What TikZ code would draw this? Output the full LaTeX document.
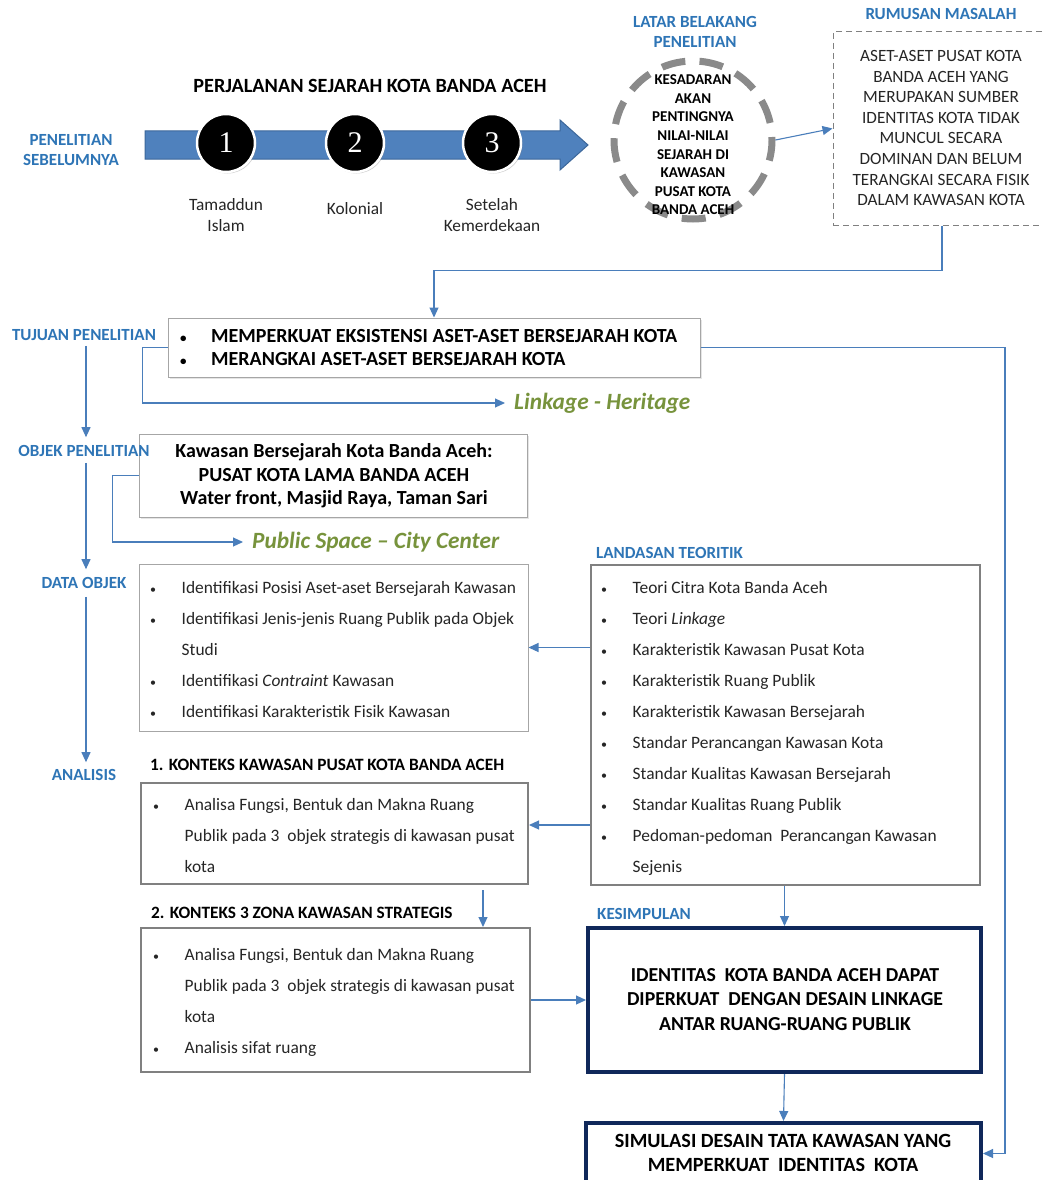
\documentclass[tikz,border=0pt]{standalone}
\usepackage{fontspec}
\setmainfont{Carlito}
\newfontfamily\numfont{Liberation Serif}
\usetikzlibrary{arrows.meta,calc,shadows}
\definecolor{lblblue}{HTML}{2E75B6}
\definecolor{linkblue}{HTML}{4A7EBB}
\definecolor{arrowfill}{HTML}{4F81BD}
\definecolor{arrowedge}{HTML}{3C679A}
\definecolor{boxgray}{HTML}{808080}
\definecolor{lightgr}{HTML}{A6A6A6}
\definecolor{dashgray}{HTML}{8A8A8A}
\definecolor{navy}{HTML}{10285A}
\definecolor{olive}{HTML}{77933C}
\definecolor{txt}{HTML}{262626}
\tikzset{
  lbl/.style={text=lblblue, font=\bfseries\fontsize{17}{20}\selectfont, align=center, inner sep=0pt},
  conn/.style={draw=linkblue, line width=1.1pt, -{Triangle[length=10pt,width=9pt]}},
  thinbox/.style={draw=lightgr, line width=1pt, rectangle, inner sep=0pt},
  thickbox/.style={draw=boxgray, line width=2pt, rectangle, inner sep=0pt},
  navybox/.style={draw=navy, line width=4pt, rectangle, inner sep=0pt},
  listtext/.style={text=txt, font=\fontsize{17.4}{31}\selectfont, align=left, inner sep=0pt, anchor=west},
  boldhead/.style={text=black, font=\bfseries\fontsize{17.3}{20}\selectfont, inner sep=0pt, anchor=west},
  green/.style={text=olive, font=\bfseries\itshape\fontsize{23.3}{26}\selectfont, anchor=west, inner xsep=9pt, inner ysep=0pt},
  numcirc/.style={circle, fill=black, draw=white, line width=2.5pt, minimum size=58pt, inner sep=0pt, text=white, font=\numfont\fontsize{30}{30}\selectfont, drop shadow={opacity=0.35, shadow xshift=1.5pt, shadow yshift=-1.5pt}},
  period/.style={text=txt, font=\fontsize{17.3}{21}\selectfont, align=center, inner sep=0pt}
}
\newcommand{\bul}{\makebox[31.5pt][l]{{\fontsize{12}{12}\selectfont\textbullet}}}
\newcommand{\ind}{\hspace*{31.5pt}}
\begin{document}
\begin{tikzpicture}[x=1pt,y=-1pt]
\useasboundingbox (0,0) rectangle (1043,1180);
\fill[white] (0,0) rectangle (1043,1180);

% ---------- timeline ----------
\node[text=black, font=\bfseries\fontsize{20.2}{24}\selectfont, inner sep=0pt] (title) at (370,86) {PERJALANAN SEJARAH KOTA BANDA ACEH};
\node[lbl] (prev) at (71,150) {PENELITIAN\\SEBELUMNYA};
\fill[arrowfill, draw=arrowedge, line width=1pt]
  (145,131) -- (560,131) -- (560,120) -- (588,145) -- (560,170) -- (560,159) -- (145,159) -- cycle;
\node[numcirc] (c1) at (226,143) {1};
\node[numcirc] (c2) at (355,143) {2};
\node[numcirc] (c3) at (492,143) {3};
\node[period] (p1) at (226,215) {Tamaddun\\Islam};
\node[period] (p2) at (355,209) {Kolonial};
\node[period] (p3) at (492,215) {Setelah\\Kemerdekaan};

% ---------- latar belakang ----------
\node[lbl] (latarlbl) at (695,32) {LATAR BELAKANG\\PENELITIAN};
\node[circle, draw=dashgray, line width=7pt, dash pattern=on 24pt off 14.2pt, dash phase=21pt, minimum size=158pt, inner sep=0pt] (circ) at (693,140) {};
\node[text=black, font=\bfseries\fontsize{15}{18.6}\selectfont, align=center, inner sep=0pt] (circtxt) at (693,145)
  {KESADARAN\\AKAN\\PENTINGNYA\\NILAI-NILAI\\SEJARAH DI\\KAWASAN\\PUSAT KOTA\\BANDA ACEH};

% ---------- rumusan masalah ----------
\node[lbl] (rumlbl) at (941,14) {RUMUSAN MASALAH};
\node[draw=boxgray, line width=1pt, dash pattern=on 6pt off 4pt, minimum width=218pt, minimum height=193pt, inner sep=0pt] (rumusan) at (942,128.5) {};
\node[text=txt, font=\fontsize{17.2}{20.6}\selectfont, align=center, inner sep=0pt] (rumtxt) at (941,128)
  {ASET-ASET PUSAT KOTA\\BANDA ACEH YANG\\MERUPAKAN SUMBER\\IDENTITAS KOTA  TIDAK\\MUNCUL SECARA\\DOMINAN DAN BELUM\\TERANGKAI SECARA FISIK\\DALAM KAWASAN KOTA};
\draw[conn] (circ.east) -- (rumusan.west);

% ---------- tujuan ----------
\node[lbl] (tujuanlbl) at (84,335) {TUJUAN PENELITIAN};
\node[thinbox, minimum width=532pt, minimum height=59pt, fill=white, drop shadow={opacity=0.2, shadow xshift=2pt, shadow yshift=-2pt}] (tujuan) at (434,347.5) {};
\node[text=black, font=\bfseries\fontsize{20}{23}\selectfont, align=left, inner sep=0pt, anchor=west] (tujuantxt) at (180,347.5)
  {\makebox[31pt][l]{{\fontsize{13}{13}\selectfont\textbullet}}MEMPERKUAT EKSISTENSI ASET-ASET BERSEJARAH KOTA\\\makebox[31pt][l]{{\fontsize{13}{13}\selectfont\textbullet}}MERANGKAI ASET-ASET BERSEJARAH KOTA};
\draw[conn] (rumusan.south) -- ++(0,45) -| (tujuan.north);
\node[green] (linkage) at (505,403) {Linkage - Heritage};
\draw[conn] (tujuan.west) -- ++(-25,0) |- (linkage.west);

% ---------- objek ----------
\node[thinbox, minimum width=388pt, minimum height=83pt, fill=white, drop shadow={opacity=0.2, shadow xshift=2pt, shadow yshift=-2pt}] (objek) at (333,475.5) {};
\node[lbl] (objeklbl) at (84,451) {OBJEK PENELITIAN};
\node[text=black, font=\bfseries\fontsize{20}{23.5}\selectfont, align=center, inner sep=0pt] (objektxt) at (334,476)
  {Kawasan Bersejarah Kota Banda Aceh:\\PUSAT KOTA LAMA BANDA ACEH\\Water front, Masjid Raya, Taman Sari};
\node[green] (pubspace) at (243,542) {Public Space -- City Center};
\draw[conn] (objek.west) -- ++(-26,0) |- (pubspace.west);

% ---------- data objek ----------
\node[lbl] (datalbl) at (84,583) {DATA OBJEK};
\node[thinbox, minimum width=389pt, minimum height=167pt] (data) at (333.5,647.5) {};
\node[listtext] (datatxt) at (150,649.5)
  {\bul Identifikasi Posisi Aset-aset Bersejarah Kawasan\\
   \bul Identifikasi Jenis-jenis Ruang Publik pada Objek\\
   \ind Studi\\
   \bul Identifikasi \textit{Contraint} Kawasan\\
   \bul Identifikasi Karakteristik Fisik Kawasan};

% ---------- landasan ----------
\node[lbl, anchor=west] (landlbl) at (596,553) {LANDASAN TEORITIK};
\node[thickbox, minimum width=389pt, minimum height=320pt] (landasan) at (785.5,725) {};
\node[listtext] (landtxt) at (601,728)
  {\bul Teori Citra Kota Banda Aceh\\
   \bul Teori \textit{Linkage}\\
   \bul Karakteristik Kawasan Pusat Kota\\
   \bul Karakteristik Ruang Publik\\
   \bul Karakteristik Kawasan Bersejarah\\
   \bul Standar Perancangan Kawasan Kota\\
   \bul Standar Kualitas Kawasan Bersejarah\\
   \bul Standar Kualitas Ruang Publik\\
   \bul Pedoman-pedoman\ \ Perancangan Kawasan\\
   \ind Sejenis};

% ---------- analisis ----------
\node[lbl] (anallbl) at (84,775) {ANALISIS};
\node[boldhead] (a1head) at (150,765) {1. KONTEKS KAWASAN PUSAT KOTA BANDA ACEH};
\node[thickbox, minimum width=387pt, minimum height=101pt] (a1) at (334.5,833.5) {};
\node[listtext] (a1txt) at (153,836)
  {\bul Analisa Fungsi, Bentuk dan Makna Ruang\\
   \ind Publik pada 3\ \ objek strategis di kawasan pusat\\
   \ind kota};
\node[boldhead] (a2head) at (151,913) {2. KONTEKS 3 ZONA KAWASAN STRATEGIS};
\node[thickbox, minimum width=389pt, minimum height=144pt] (a2) at (335.5,1000) {};
\node[listtext] (a2txt) at (153,1002.5)
  {\bul Analisa Fungsi, Bentuk dan Makna Ruang\\
   \ind Publik pada 3\ \ objek strategis di kawasan pusat\\
   \ind kota\\
   \bul Analisis sifat ruang};

% ---------- kesimpulan ----------
\node[lbl, anchor=west] (keslbl) at (597,914) {KESIMPULAN};
\node[navybox, minimum width=393pt, minimum height=144pt] (kes) at (784.5,1000) {};
\node[text=black, font=\bfseries\fontsize{19.8}{24.5}\selectfont, align=center, inner sep=0pt] (kestxt) at (785,999.5)
  {IDENTITAS\ \ KOTA BANDA ACEH DAPAT\\DIPERKUAT\ \ DENGAN DESAIN LINKAGE\\ANTAR RUANG-RUANG PUBLIK};
\node[navybox, minimum width=395pt, minimum height=61pt] (sim) at (783.5,1153.5) {};
\node[text=black, font=\bfseries\fontsize{20.2}{24}\selectfont, align=center, inner sep=0pt] (simtxt) at (783,1153)
  {SIMULASI DESAIN TATA KAWASAN YANG\\MEMPERKUAT\ \ IDENTITAS\ \ KOTA};

% ---------- connectors ----------
\coordinate (rtx) at (1005,0);
\draw[conn] (tujuan.east) -- (tujuan.east -| rtx) |- (sim.east);
\draw[conn, shorten <=5pt, shorten >=8pt] ([xshift=2pt]tujuanlbl.south) -- ([xshift=2pt]tujuanlbl.south |- objeklbl.north);
\draw[conn, shorten <=6pt, shorten >=8pt] ([xshift=2pt]objeklbl.south) -- ([xshift=2pt]objeklbl.south |- datalbl.north);
\draw[conn, shorten <=8pt, shorten >=7pt] ([xshift=2pt]datalbl.south) -- ([xshift=2pt]datalbl.south |- anallbl.north);
\draw[conn] (landasan.west |- data.east) -- (data.east);
\draw[conn] (landasan.west |- a1.east) ++(0,-8.5) -- ([yshift=8.5pt]a1.east);
\draw[conn, shorten <=5pt] ([xshift=148.5pt]a1.south) -- ([xshift=148.5pt]a1.south |- a2.north);
\draw[conn] (a2.east) -- (kes.west);
\draw[conn] (landasan.south -| kes.north) -- (kes.north);
\draw[conn] (kes.south) -- (sim.north);
\end{tikzpicture}
\end{document}
